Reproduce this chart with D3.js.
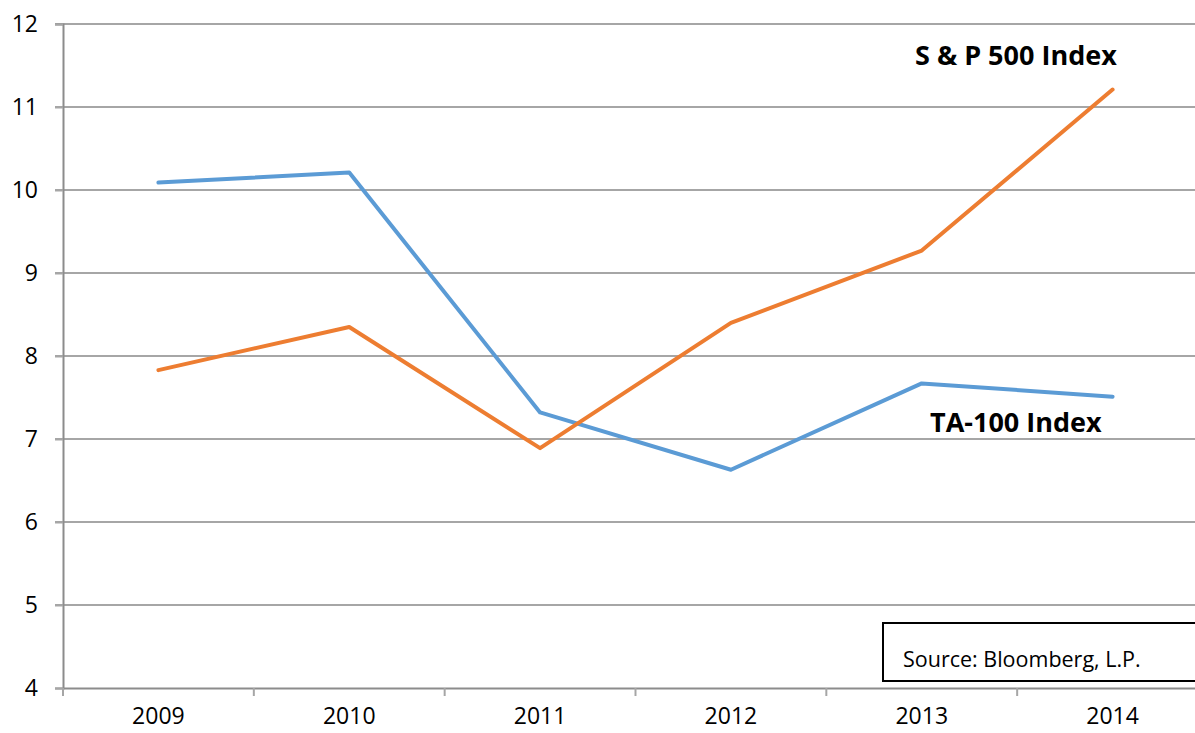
<!DOCTYPE html>
<html>
<head>
<meta charset="utf-8">
<style>
  body { margin: 0; background: #fff; }
  svg { display: block; }
</style>
<script src="https://cdn.jsdelivr.net/npm/d3@7"></script>
</head>
<body>
<svg id="chart"></svg>
<script>
  // data
  let years = ["2009", "2010", "2011", "2012", "2013", "2014"]
  let ta100 = [10.09, 10.21, 7.32, 6.63, 7.67, 7.51]
  let sp500 = [7.83, 8.35, 6.89, 8.40, 9.27, 11.21]
  let yTicks = [4, 5, 6, 7, 8, 9, 10, 11, 12]

  let font = "'Open Sans', sans-serif"
  let width = 1195, height = 733
  let margin = { top: 24, left: 63, bottom: 45 }
  let plotRight = 1208   // plot continues past the picture's right edge

  let svg = d3.select("#chart")
    .attr("width", width).attr("height", height)
    .attr("font-family", font)

  let x = d3.scaleBand().domain(years).range([margin.left, plotRight])
  let y = d3.scaleLinear().domain([4, 12]).range([height - margin.bottom, margin.top])

  // gridlines
  svg.append("g")
    .selectAll("line")
    .data(yTicks.slice(1))
    .join("line")
      .attr("x1", margin.left - 8)
      .attr("x2", plotRight)
      .attr("y1", d => y(d))
      .attr("y2", d => y(d))
      .attr("stroke", "#a6a6a6")
      .attr("stroke-width", 2)

  // y axis
  let axisY = d3.axisLeft(y).tickValues(yTicks).tickSize(8).tickPadding(17)
  let gy = svg.append("g")
    .attr("transform", `translate(${margin.left},0)`)
    .call(axisY)
    .attr("font-family", font)
    .attr("font-size", 23)
  gy.select(".domain").attr("stroke", "#8c8c8c").attr("stroke-width", 2)
  gy.selectAll(".tick line").attr("stroke", "#a6a6a6").attr("stroke-width", 2)
  gy.selectAll("text").attr("fill", "#000")

  // x axis
  let axisX = d3.axisBottom(x).tickSize(0).tickPadding(20)
  let gx = svg.append("g")
    .attr("transform", `translate(0,${y(4)})`)
    .call(axisX)
    .attr("font-family", font)
    .attr("font-size", 23)
  gx.select(".domain").attr("stroke", "#8c8c8c").attr("stroke-width", 2)
  gx.selectAll("text").attr("fill", "#000")
  // category boundary ticks
  gx.append("g")
    .selectAll("line")
    .data(years)
    .join("line")
      .attr("x1", d => x(d))
      .attr("x2", d => x(d))
      .attr("y1", 0)
      .attr("y2", 8)
      .attr("stroke", "#a6a6a6")
      .attr("stroke-width", 2)

  // lines
  let line = d3.line()
    .x((d, i) => x(years[i]) + x.bandwidth() / 2)
    .y(d => y(d))

  svg.append("path")
    .datum(ta100)
    .attr("d", line)
    .attr("fill", "none")
    .attr("stroke", "#5b9bd5")
    .attr("stroke-width", 4)
    .attr("stroke-linecap", "round")
    .attr("stroke-linejoin", "round")

  svg.append("path")
    .datum(sp500)
    .attr("d", line)
    .attr("fill", "none")
    .attr("stroke", "#ed7d31")
    .attr("stroke-width", 4)
    .attr("stroke-linecap", "round")
    .attr("stroke-linejoin", "round")

  // series labels
  svg.append("text")
    .attr("x", 915).attr("y", 65)
    .attr("font-size", 27).attr("font-weight", "bold")
    .text("S & P 500 Index")

  svg.append("text")
    .attr("x", 930).attr("y", 432)
    .attr("font-size", 27).attr("font-weight", "bold")
    .text("TA-100 Index")

  // source box
  svg.append("rect")
    .attr("x", 883).attr("y", 623)
    .attr("width", 340).attr("height", 58)
    .attr("fill", "#fff")
    .attr("stroke", "#000")
    .attr("stroke-width", 2)

  svg.append("text")
    .attr("x", 903).attr("y", 667)
    .attr("font-size", 21.5)
    .text("Source: Bloomberg, L.P.")
</script>
</body>
</html>
